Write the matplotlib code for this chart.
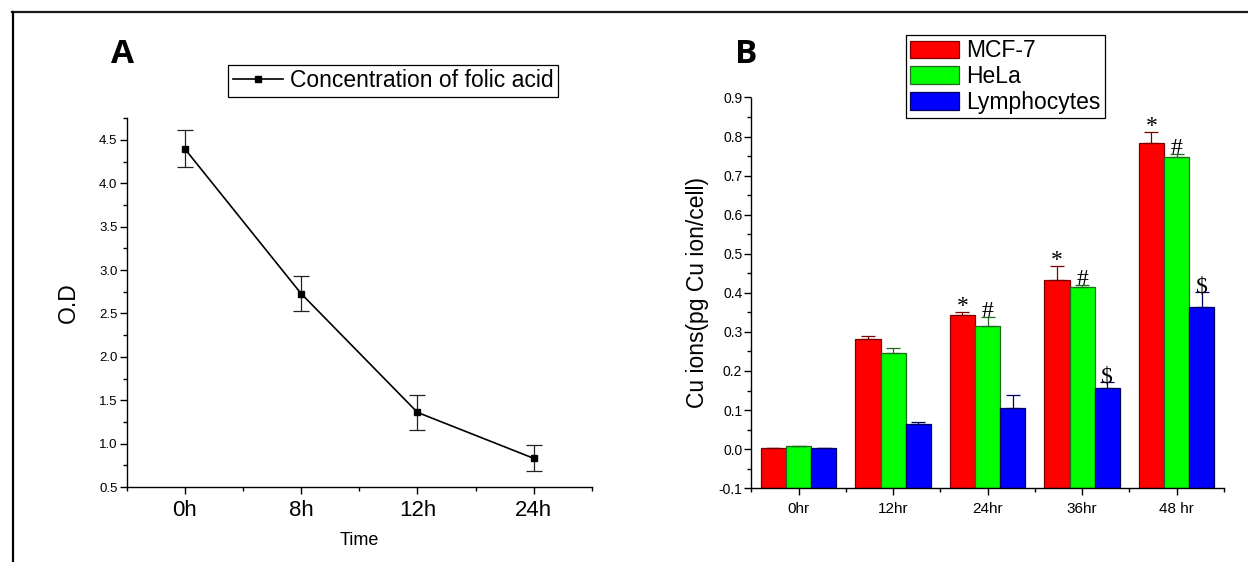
import matplotlib
matplotlib.use("Agg")
import matplotlib.pyplot as plt
from matplotlib.lines import Line2D
from matplotlib.ticker import MultipleLocator, FixedLocator, FormatStrFormatter
import numpy as np

plt.rcParams["font.family"] = ["Liberation Sans", "DejaVu Sans"]

# ---- Panel A: folic acid concentration over time ----
time_labels = ["0h", "8h", "12h", "24h"]
od_values = [4.40, 2.73, 1.36, 0.83]
od_errors = [0.21, 0.20, 0.20, 0.15]

# ---- Panel B: copper uptake per cell ----
group_labels = ["0hr", "12hr", "24hr", "36hr", "48 hr"]
series_names = ["MCF-7", "HeLa", "Lymphocytes"]
mcf7 = [0.003, 0.283, 0.344, 0.433, 0.783]
mcf7_err = [0.0, 0.006, 0.006, 0.037, 0.028]
hela = [0.007, 0.246, 0.314, 0.416, 0.748]
hela_err = [0.0, 0.013, 0.024, 0.004, 0.008]
lymph = [0.003, 0.065, 0.106, 0.156, 0.363]
lymph_err = [0.0, 0.005, 0.032, 0.015, 0.038]
mcf7_marks = ["", "", "*", "*", "*"]
hela_marks = ["", "", "#", "#", "#"]
lymph_marks = ["", "", "", "$", "$"]

W, H = 1248, 562
fig = plt.figure(figsize=(W / 100, H / 100), dpi=100)
fig.patch.set_facecolor("white")


def px_axes(left, top, right, bottom):
    return fig.add_axes([left / W, 1 - bottom / H, (right - left) / W, (bottom - top) / H])


def style_axes(ax):
    for s in ("top", "right"):
        ax.spines[s].set_visible(False)
    for s in ("left", "bottom"):
        ax.spines[s].set_linewidth(1.0)
    ax.tick_params(which="major", direction="out", length=5, width=1.0)
    ax.tick_params(which="minor", direction="out", length=3, width=1.0)


# ---------------- Panel A ----------------
axA = px_axes(126.5, 118.3, 592, 487)
style_axes(axA)
xA = np.arange(len(time_labels))
axA.errorbar(xA, od_values, yerr=od_errors, color="black", lw=1.2,
             marker="s", markersize=5, markerfacecolor="black",
             ecolor="#222222", elinewidth=0.9, capsize=5.5, capthick=0.9)
axA.set_xlim(-0.5, len(time_labels) - 0.5)
axA.set_ylim(0.5, 4.75)
axA.set_xticks(xA)
axA.set_xticklabels(time_labels, fontsize=16)
axA.xaxis.set_minor_locator(FixedLocator(np.arange(-0.5, len(time_labels), 1.0)))
axA.yaxis.set_major_locator(MultipleLocator(0.5))
axA.yaxis.set_minor_locator(MultipleLocator(0.25))
axA.yaxis.set_major_formatter(FormatStrFormatter("%.1f"))
axA.tick_params(axis="y", labelsize=9.5, pad=1.5)
axA.tick_params(axis="x", pad=4)
axA.set_xlabel("Time", fontsize=13, labelpad=8)
axA.set_ylabel("O.D", fontsize=16.5, labelpad=14)
line_handle = Line2D([], [], color="black", lw=1.2, marker="s", markersize=5,
                     markerfacecolor="black")
legA = axA.legend(handles=[line_handle], labels=["Concentration of folic acid"],
                  loc="upper left", bbox_to_anchor=(228.2 / W, 1 - 64.5 / H),
                  bbox_transform=fig.transFigure, borderaxespad=0, fontsize=16.5,
                  frameon=True, fancybox=False, edgecolor="black", framealpha=1,
                  handlelength=2.2, handletextpad=0.3, borderpad=0.2)
legA.get_frame().set_linewidth(0.9)

fig.text(122.6 / W, 1 - 62.7 / H, "A", fontsize=24, fontweight="bold",
         family=["Open Sans", "DejaVu Sans"], ha="center", va="baseline")

# ---------------- Panel B ----------------
axB = px_axes(751.4, 97.5, 1223.9, 488.2)
style_axes(axB)
y_min, y_max = -0.1, 0.9
xB = np.arange(len(group_labels))
bw = 0.8 / 3
series = [
    (mcf7, mcf7_err, mcf7_marks, "#ff0000", "#7a0000"),
    (hela, hela_err, hela_marks, "#00ff00", "#1f6a1f"),
    (lymph, lymph_err, lymph_marks, "#0000ff", "#000060"),
]
for i, (vals, errs, marks, fc, ec) in enumerate(series):
    vals = np.asarray(vals)
    errs = np.asarray(errs)
    pos = xB + (i - 1) * bw
    axB.bar(pos, vals - y_min, bw, bottom=y_min, color=fc, edgecolor=ec,
            linewidth=0.9, label=series_names[i],
            yerr=[np.zeros_like(errs), errs],
            error_kw=dict(ecolor=ec, elinewidth=0.9, capsize=5, capthick=0.9))
    for p, v, e, m in zip(pos, vals, errs, marks):
        if m:
            axB.text(p, v + e, m, ha="center", va="baseline", fontsize=17,
                     family=["Liberation Serif", "DejaVu Serif"], parse_math=False)

axB.set_xlim(-0.5, len(group_labels) - 0.5)
axB.set_ylim(y_min, y_max)
axB.set_xticks(xB)
axB.set_xticklabels(group_labels, fontsize=11)
axB.xaxis.set_minor_locator(FixedLocator(np.arange(-0.5, len(group_labels), 1.0)))
axB.yaxis.set_major_locator(MultipleLocator(0.1))
axB.yaxis.set_minor_locator(MultipleLocator(0.05))
axB.yaxis.set_major_formatter(FormatStrFormatter("%.1f"))
axB.tick_params(axis="y", labelsize=10, pad=1.5)
axB.tick_params(axis="x", pad=5)
axB.set_ylabel("Cu ions(pg Cu ion/cell)", fontsize=16.5, labelpad=7)
legB = axB.legend(loc="upper left", bbox_to_anchor=(905.5 / W, 1 - 34.8 / H),
                  bbox_transform=fig.transFigure, borderaxespad=0, fontsize=16.5,
                  frameon=True, fancybox=False, edgecolor="black", framealpha=1,
                  handlelength=2.15, handleheight=0.8, handletextpad=0.3,
                  labelspacing=0.12, borderpad=0.2)
legB.get_frame().set_linewidth(0.9)

fig.text(746 / W, 1 - 62.7 / H, "B", fontsize=24, fontweight="bold",
         family=["Open Sans", "DejaVu Sans"], ha="center", va="baseline")

# outer frame: top and left edges
fig.add_artist(Line2D([12 / W, 1], [1 - 12 / H, 1 - 12 / H], transform=fig.transFigure,
                      color="#1a1a1a", lw=1.6))
fig.add_artist(Line2D([13 / W, 13 / W], [1 - 12 / H, 0], transform=fig.transFigure,
                      color="#000000", lw=1.6))

fig.savefig("out.png", dpi=100, facecolor="white")
